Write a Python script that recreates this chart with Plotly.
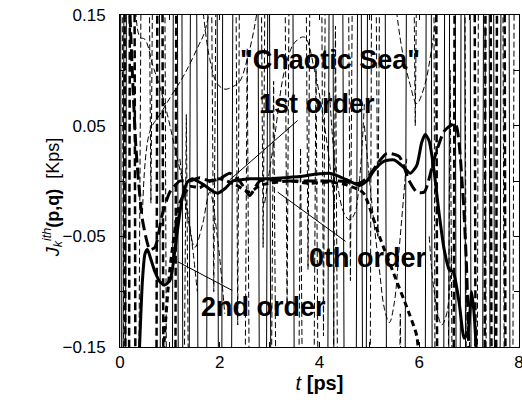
import plotly.graph_objects as go

# ---------------- data ----------------
# thick solid trajectory
s_t = [0.35, 0.45, 0.50, 0.55, 0.60, 0.70, 0.80, 0.90, 1.00, 1.05, 1.15, 1.25, 1.35, 1.45, 1.55, 1.70, 1.85, 1.96,
       2.10, 2.26, 2.40, 2.60, 2.80, 3.00, 3.30, 3.60, 3.90, 4.20, 4.40, 4.60, 4.80, 4.95, 5.10, 5.30, 5.50, 5.70,
       5.82, 5.95, 6.05, 6.12, 6.20, 6.30, 6.40, 6.50, 6.60, 6.68, 6.80, 6.90, 6.98, 7.05, 7.10, 7.20]
s_v = [-0.20, -0.09, -0.066, -0.062, -0.068, -0.082, -0.091, -0.094, -0.090, -0.080, -0.045, -0.015, -0.001, 0.002, 0.000, -0.004, -0.009, -0.011,
       -0.007, 0.000, 0.001, 0.002, 0.002, 0.002, 0.003, 0.004, 0.006, 0.007, 0.004, 0.000, -0.004, 0.000, 0.010, 0.018, 0.019, 0.012,
       0.007, 0.014, 0.035, 0.042, 0.036, 0.008, -0.030, -0.062, -0.080, -0.082, -0.110, -0.142, -0.135, -0.100, -0.120, -0.20]

# thick long-dashed trajectory
d_t = [0.20, 0.32, 0.45, 0.60, 0.70, 0.85, 1.00, 1.20, 1.40, 1.60, 1.80, 2.00, 2.20, 2.40, 2.60, 2.80, 3.00, 3.50, 4.00,
       4.40, 4.80, 5.00, 5.20, 5.35, 5.60, 5.80, 5.95, 6.10, 6.30, 6.50, 6.72, 6.87, 6.95, 7.02]
d_v = [0.15, 0.03, -0.035, -0.062, -0.060, -0.030, -0.010, 0.000, 0.000, 0.003, 0.000, 0.002, 0.007, 0.000, -0.013, 0.000, 0.001, 0.000, 0.000,
       0.000, -0.002, 0.005, 0.018, 0.025, 0.022, 0.000, -0.010, -0.010, 0.020, 0.045, 0.052, -0.008, -0.08, -0.20]

# thick short-dashed trajectory
z_t = [0.80, 1.00, 1.20, 1.40, 1.60, 1.80, 2.00, 2.30, 2.60, 2.80, 3.00, 3.40, 3.80, 4.20, 4.50, 4.80, 4.90, 5.20, 5.50, 5.80, 5.95, 6.05]
z_v = [-0.20, -0.08, -0.02, -0.005, -0.006, 0.000, 0.002, -0.003, -0.010, -0.004, -0.002, 0.000, -0.002, -0.001, -0.003, -0.008, -0.012, -0.050, -0.085, -0.120, -0.140, -0.20]

# chaotic thin solid trajectories (steep crossings)
sw_t = [0.00, 0.04, None, 0.10, 0.14, None, 0.78, 0.82, None, 1.04, 1.08, None, 1.14, 1.18, None, 1.37, 1.43, None,
        1.52, 1.58, None, 1.72, 1.78, None, 1.93, 1.99, None, 2.22, 2.28, None, 2.75, 2.81, None, 2.92, 2.98, None,
        3.45, 3.51, None, 4.15, 4.21, None, 4.45, 4.51, None, 4.72, 4.78, None, 4.82, 4.88, None, 4.92, 4.98, None,
        5.30, 5.36, None, 6.11, 6.15, None, 6.23, 6.27, None, 6.48, 6.52, None, 6.71, 6.75, None, 6.81, 6.85, None,
        7.01, 7.05, None, 7.26, 7.30, None, 7.39, 7.43, None, 7.61, 7.65, None, 7.79, 7.83, None,
        0.05, 0.09, None, 1.23, 1.27, None, 2.03, 2.07, None, 2.98, 3.04, None, 4.26, 4.30, None,
        5.70, 5.76, None, 6.58, 6.62, None, 6.90, 6.94, None, 7.48, 7.52]
sw_v = [0.4, -0.4, None, -0.4, 0.4, None, 0.4, -0.4, None, -0.4, 0.4, None, 0.4, -0.4, None, -0.4, 0.4, None,
        0.4, -0.4, None, -0.4, 0.4, None, 0.4, -0.4, None, -0.4, 0.4, None, 0.4, -0.4, None, -0.4, 0.4, None,
        0.4, -0.4, None, -0.4, 0.4, None, 0.4, -0.4, None, -0.4, 0.4, None, 0.4, -0.4, None, -0.4, 0.4, None,
        0.4, -0.4, None, -0.4, 0.4, None, 0.4, -0.4, None, -0.4, 0.4, None, 0.4, -0.4, None, -0.4, 0.4, None,
        0.4, -0.4, None, -0.4, 0.4, None, 0.4, -0.4, None, -0.4, 0.4, None, 0.4, -0.4, None,
        -0.4, 0.4, None, 0.4, -0.4, None, -0.4, 0.4, None, 0.4, -0.4, None, 0.4, -0.4, None,
        -0.4, 0.4, None, -0.4, 0.4, None, 0.4, -0.4, None, 0.4, -0.4]

# chaotic thin dashed trajectories (V and inverted-V excursions)
dw_t = [0.02, 0.10, None, 0.35, 0.45, None, 0.55, 0.62, 0.69, None, 0.88, 0.95, None,
        1.25, 1.33, 1.41, None, 1.80, 1.88, 1.96, None, 2.30, 2.36, 2.42, None, 2.48, 2.55, 2.62, None,
        2.80, 2.87, 2.94, None, 3.00, 3.08, 3.16, None, 3.28, 3.35, 3.42, None, 3.55, 3.62, 3.69, None,
        3.70, 3.77, 3.84, None, 3.86, 3.93, 4.00, None, 4.02, 4.08, 4.14, None, 4.25, 4.32, 4.39, None,
        4.55, 4.62, 4.69, None, 5.00, 5.06, None, 5.10, 5.17, 5.24, None, 5.55, 5.62, 5.69, None,
        5.85, 5.92, 5.99, None, 6.28, 6.33, None, 6.55, 6.62, 6.69, None, 6.90, 6.96, None,
        7.15, 7.20, None, 7.30, 7.36, None, 7.66, 7.72, None, 7.86, 7.92]
dw_v = [0.4, -0.4, None, -0.4, 0.4, None, 0.4, -0.02, 0.4, None, 0.4, -0.4, None,
        -0.4, 0.06, -0.4, None, 0.4, -0.10, 0.4, None, 0.4, -0.13, 0.4, None, -0.4, 0.12, -0.4, None,
        0.4, -0.06, 0.4, None, -0.4, 0.09, -0.4, None, 0.4, -0.12, 0.4, None, -0.4, 0.03, -0.4, None,
        0.4, -0.08, 0.4, None, -0.4, 0.11, -0.4, None, 0.4, -0.14, 0.4, None, -0.4, 0.14, -0.4, None,
        0.4, -0.09, 0.4, None, -0.4, 0.4, None, 0.4, -0.05, 0.4, None, -0.4, -0.12, -0.4, None,
        0.4, 0.05, 0.4, None, 0.4, -0.4, None, -0.4, 0.10, -0.4, None, 0.4, -0.4, None,
        -0.4, 0.4, None, 0.4, -0.4, None, 0.4, -0.4, None, -0.4, 0.4]

# chaotic thick dashed trajectories
tw_t = [0.08, 0.12, None, 0.17, 0.21, None, 0.28, 0.32, None, 0.72, 0.76, None, 0.84, 0.88, None, 1.10, 1.14, None,
        6.33, 6.37, None, 6.68, 6.72, None, 7.10, 7.14, None, 7.30, 7.34, None, 7.42, 7.46, None, 7.53, 7.57, None, 7.70, 7.74]
tw_v = [0.4, -0.4, None, -0.4, 0.4, None, 0.4, -0.4, None, -0.4, 0.4, None, 0.4, -0.4, None, -0.4, 0.4, None,
        0.4, -0.4, None, -0.4, 0.4, None, 0.4, -0.4, None, -0.4, 0.4, None, 0.4, -0.4, None, -0.4, 0.4, None, 0.4, -0.4]

# smoother chaotic dashed trajectories
c1_t = [0.30, 0.40, 0.50, 0.66, 0.80, 0.95, 1.10, 1.25, 1.40, 1.55]
c1_v = [0.17, 0.13, 0.128, 0.104, 0.085, 0.06, 0.03, 0.00, -0.04, -0.10]
c2_t = [0.45, 0.60, 0.80, 1.00, 1.30, 1.56, 1.70, 1.85]
c2_v = [-0.03, 0.045, 0.06, 0.075, 0.097, 0.121, 0.135, 0.17]
c3_t = [1.65, 1.80, 1.95, 2.10, 2.25, 2.40, 2.55, 2.70, 2.80]
c3_v = [0.16, 0.11, 0.088, 0.083, 0.085, 0.09, 0.11, 0.14, 0.17]
c4_t = [2.90, 3.10, 3.30, 3.50, 3.70, 3.90, 4.10, 4.30]
c4_v = [-0.02, 0.04, 0.10, 0.125, 0.13, 0.10, 0.05, -0.02]
c5_t = [4.90, 5.05, 5.20, 5.30, 5.40, 5.50, 5.60, 5.75]
c5_v = [0.05, -0.02, -0.08, -0.115, -0.128, -0.11, -0.06, 0.02]
c6_t = [4.20, 4.35, 4.50, 4.60, 4.70, 4.80, 4.90]
c6_v = [0.08, 0.00, -0.03, -0.035, -0.03, 0.00, 0.07]
c7_t = [5.50, 5.65, 5.80, 5.95, 6.10, 6.25, 6.40]
c7_v = [0.17, 0.12, 0.09, 0.07, 0.085, 0.12, 0.17]
c8_t = [1.20, 1.35, 1.50, 1.65, 1.80, 1.95, 2.10]
c8_v = [0.02, -0.03, -0.06, -0.04, -0.01, -0.05, -0.12]
c9_t = [6.20, 6.30, 6.45, 6.55, 6.65]
c9_v = [-0.05, -0.10, -0.13, -0.12, -0.06]
curves = [(c1_t, c1_v), (c2_t, c2_v), (c3_t, c3_v), (c4_t, c4_v), (c5_t, c5_v),
          (c6_t, c6_v), (c7_t, c7_v), (c8_t, c8_v), (c9_t, c9_v)]

x_ticks = [0, 2, 4, 6, 8]
x_ticktext = ["0", "2", "4", "6", "8"]
x_minor = [1, 3, 5, 7]
y_ticks = [0.15, 0.05, -0.05, -0.15]
y_ticktext = ["0.15", "0.05", "\u22120.05", "\u22120.15"]
y_minor = [0.10, 0.0, -0.10]

FONT = "Arial, Liberation Sans, sans-serif"

# ---------------- figure ----------------
fig = go.Figure()

fig.add_trace(go.Scatter(x=sw_t, y=sw_v, mode="lines", line=dict(color="black", width=1), connectgaps=False))
fig.add_trace(go.Scatter(x=dw_t, y=dw_v, mode="lines", line=dict(color="black", width=1, dash="6px,3px"),
                         connectgaps=False))
for ct, cv in curves:
    fig.add_trace(go.Scatter(x=ct, y=cv, mode="lines",
                             line=dict(color="black", width=1, dash="6px,3px", shape="spline", smoothing=1)))
fig.add_trace(go.Scatter(x=tw_t, y=tw_v, mode="lines", line=dict(color="black", width=2.5, dash="8px,4px"),
                         connectgaps=False))

fig.add_trace(go.Scatter(x=z_t, y=z_v, mode="lines",
                         line=dict(color="black", width=3, dash="6px,4px", shape="spline", smoothing=0.6)))
fig.add_trace(go.Scatter(x=d_t, y=d_v, mode="lines",
                         line=dict(color="black", width=3, dash="12px,5px", shape="spline", smoothing=0.6)))
fig.add_trace(go.Scatter(x=s_t, y=s_v, mode="lines",
                         line=dict(color="black", width=3, shape="spline", smoothing=0.6)))

ann_font = dict(family=FONT, size=27, color="black")
fig.add_annotation(x=4.22, y=0.109, text="<b>\"Chaotic Sea\"</b>", showarrow=False, font=ann_font,
                   xref="x", yref="y")
fig.add_annotation(x=2.2, y=0.001, ax=3.94, ay=0.0696, axref="x", ayref="y", text="<b>1st order</b>",
                   showarrow=True, arrowhead=0, arrowwidth=1, arrowcolor="black", font=ann_font)
fig.add_annotation(x=3.16, y=-0.010, ax=4.98, ay=-0.0695, axref="x", ayref="y", text="<b>0th order</b>",
                   showarrow=True, arrowhead=0, arrowwidth=1, arrowcolor="black", font=ann_font)
fig.add_annotation(x=1.16, y=-0.073, ax=2.88, ay=-0.1138, axref="x", ayref="y", text="<b>2nd order</b>",
                   showarrow=True, arrowhead=0, arrowwidth=1, arrowcolor="black", font=ann_font)

# y-axis title as rotated annotation
fig.add_annotation(xref="paper", yref="paper", x=-0.205, y=0.45, textangle=-90, showarrow=False,
                   text="<i>J</i><sub><i>k</i></sub><sup><i>ith</i></sup><b>(p,q)</b>  [Kps]",
                   font=dict(family=FONT, size=18, color="black"))

fig.update_layout(
    width=522, height=409,
    margin=dict(l=120, r=3, t=15, b=62),
    paper_bgcolor="white", plot_bgcolor="white",
    showlegend=False,
    font=dict(family=FONT, size=17, color="black"),
)
fig.update_xaxes(range=[0, 8], tickmode="array", tickvals=x_ticks, ticktext=x_ticktext, automargin=False,
                 ticks="inside", ticklen=5, tickcolor="black", showline=True, linecolor="black", linewidth=1,
                 minor=dict(tickmode="array", tickvals=x_minor, ticks="inside", ticklen=5, tickcolor="black"),
                 mirror="ticks", showgrid=False, zeroline=False, ticklabeloverflow="allow",
                 title=dict(text="<i>t</i> <b>[ps]</b>", font=dict(family=FONT, size=20), standoff=4),
                 tickfont=dict(family=FONT, size=17))
fig.update_yaxes(range=[-0.15, 0.15], tickmode="array", tickvals=y_ticks, ticktext=y_ticktext, automargin=False,
                 ticks="inside", ticklen=5, tickcolor="black", showline=True, linecolor="black", linewidth=1,
                 minor=dict(tickmode="array", tickvals=y_minor, ticks="inside", ticklen=5, tickcolor="black"),
                 mirror="ticks", showgrid=False, zeroline=False, ticklabelstandoff=10,
                 tickfont=dict(family=FONT, size=17))

fig.write_html("out.html")
